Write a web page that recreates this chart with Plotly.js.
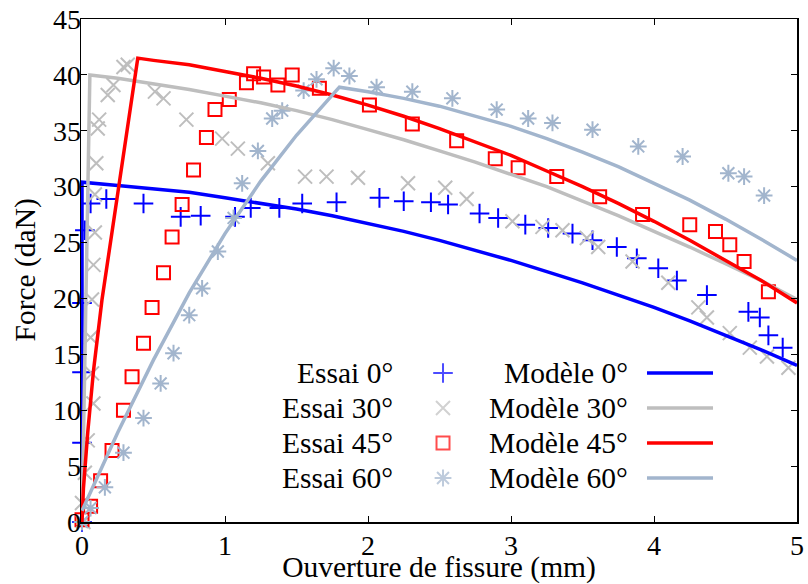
<!DOCTYPE html>
<html>
<head>
<meta charset="utf-8">
<script src="https://cdn.plot.ly/plotly-3.0.1.min.js"></script>
<style>html,body{margin:0;padding:0;background:#fff;}#chart{width:808px;height:584px;}</style>
</head>
<body>
<div id="chart"></div>
<script>
// ---- Experimental data (Essai) ----
const essai0_x = [0, 0, 0, 0, 0.02, 0.06, 0.17, 0.43, 0.69, 0.83, 1.07, 1.18, 1.38, 1.54, 1.78, 2.08, 2.25, 2.44, 2.56, 2.78, 2.91, 3.10, 3.26, 3.43, 3.57, 3.74, 3.88, 4.03, 4.16, 4.37, 4.66, 4.74, 4.80, 4.90];
const essai0_y = [0, 7.1, 13.4, 19.6, 26.1, 28.5, 28.9, 28.5, 27.3, 27.4, 27.3, 28.1, 28.1, 28.5, 28.6, 29.0, 28.7, 28.6, 28.4, 27.6, 27.2, 26.6, 26.3, 25.8, 25.2, 24.6, 23.6, 22.7, 21.6, 20.3, 18.8, 18.3, 16.7, 15.6];

const essai30_x = [0.01, 0.00, 0.02, 0.04, 0.08, 0.07, 0.06, 0.07, 0.08, 0.09, 0.09, 0.10, 0.11, 0.12, 0.18, 0.22, 0.29, 0.32, 0.51, 0.57, 0.73, 0.98, 1.09, 1.30, 1.56, 1.71, 1.93, 2.28, 2.54, 2.69, 3.01, 3.22, 3.36, 3.53, 3.61, 3.85, 4.10, 4.31, 4.37, 4.53, 4.67, 4.79, 4.94];
const essai30_y = [0.0, 1.7, 4.4, 7.3, 10.6, 13.3, 16.5, 19.9, 23.0, 25.9, 29.3, 32.1, 35.2, 36.0, 38.2, 39.1, 40.7, 40.9, 38.5, 37.9, 36.0, 34.3, 33.4, 32.1, 30.9, 30.9, 30.8, 30.3, 29.9, 28.9, 26.9, 26.4, 26.1, 25.4, 24.6, 23.3, 21.4, 19.2, 18.3, 16.9, 15.6, 14.8, 13.8];

const essai45_x = [0.0, 0.06, 0.13, 0.21, 0.29, 0.35, 0.43, 0.49, 0.57, 0.63, 0.70, 0.78, 0.87, 0.93, 1.03, 1.15, 1.20, 1.27, 1.37, 1.47, 1.66, 2.01, 2.31, 2.62, 2.89, 3.05, 3.32, 3.62, 3.92, 4.25, 4.43, 4.53, 4.63, 4.80];
const essai45_y = [0.2, 1.4, 3.7, 6.4, 10.0, 13.0, 16.0, 19.2, 22.3, 25.5, 28.4, 31.5, 34.4, 36.9, 37.8, 39.3, 40.1, 39.8, 39.1, 40.0, 38.8, 37.3, 35.6, 34.1, 32.5, 31.7, 30.9, 29.1, 27.5, 26.6, 26.0, 24.8, 23.3, 20.6];

const essai60_x = [0.0, 0.06, 0.16, 0.29, 0.43, 0.55, 0.64, 0.75, 0.84, 0.95, 1.06, 1.12, 1.23, 1.33, 1.40, 1.55, 1.64, 1.76, 1.87, 2.06, 2.31, 2.59, 2.90, 3.12, 3.29, 3.57, 3.89, 4.20, 4.52, 4.63, 4.77];
const essai60_y = [0.0, 1.25, 3.1, 6.2, 9.3, 12.4, 15.1, 18.5, 20.9, 24.2, 27.2, 30.3, 33.2, 36.1, 36.8, 38.6, 39.6, 40.6, 39.9, 38.9, 38.5, 37.9, 36.9, 36.1, 35.7, 35.1, 33.6, 32.7, 31.2, 30.9, 29.2];

// ---- Model curves (Modèle) ----
const modele0_x = [0, 0, 0.25, 0.5, 0.75, 1, 1.25, 1.5, 1.75, 2, 2.25, 2.5, 2.75, 3, 3.25, 3.5, 3.75, 4, 4.25, 4.5, 4.75, 5];
const modele0_y = [0, 30.4, 30.1, 29.8, 29.5, 29.0, 28.5, 28.0, 27.4, 26.7, 26.0, 25.2, 24.3, 23.4, 22.4, 21.4, 20.3, 19.2, 18.0, 16.7, 15.4, 14.0];

const modele30_x = [0, 0.055, 0.25, 0.5, 0.75, 1, 1.25, 1.5, 1.75, 2, 2.25, 2.5, 2.75, 3, 3.25, 3.5, 3.75, 4, 4.25, 4.5, 4.75, 5];
const modele30_y = [0, 40.0, 39.7, 39.2, 38.7, 38.1, 37.5, 36.8, 36.0, 35.1, 34.2, 33.2, 32.2, 31.1, 30.0, 28.7, 27.4, 26.0, 24.6, 23.1, 21.6, 19.9];

const modele45_x = [0, 0.01, 0.04, 0.08, 0.14, 0.39, 0.5, 0.75, 1, 1.25, 1.5, 1.75, 2, 2.25, 2.5, 2.75, 3, 3.25, 3.5, 3.75, 4, 4.25, 4.5, 4.75, 5];
const modele45_y = [0, 3, 8, 13.5, 19.9, 41.5, 41.3, 40.9, 40.3, 39.7, 39.0, 38.2, 37.3, 36.3, 35.2, 34.0, 32.8, 31.4, 30.0, 28.5, 26.9, 25.2, 23.4, 21.6, 19.6];

const modele60_x = [0, 0.25, 0.5, 0.75, 1.0, 1.25, 1.5, 1.8, 2, 2.25, 2.5, 2.75, 3, 3.25, 3.5, 3.75, 4, 4.25, 4.5, 4.75, 5];
const modele60_y = [1.0, 8.0, 14.5, 20.5, 25.8, 30.5, 34.6, 38.9, 38.5, 37.9, 37.2, 36.3, 35.4, 34.3, 33.1, 31.8, 30.3, 28.8, 27.1, 25.3, 23.4];

// ---- Labels & ticks ----
const essaiLabels = ['Essai 0°', 'Essai 30°', 'Essai 45°', 'Essai 60°'];
const modeleLabels = ['Modèle 0°', 'Modèle 30°', 'Modèle 45°', 'Modèle 60°'];
const xTitle = 'Ouverture de fissure (mm)';
const yTitle = 'Force (daN)';
const xTicks = [0, 1, 2, 3, 4, 5];
const yTicks = [0, 5, 10, 15, 20, 25, 30, 35, 40, 45];

// ---- Styles ----
const colors = ['#0000ff', '#bebebe', '#ff0000', '#a2b5cd'];
const symbols = ['cross-thin-open', 'x-thin-open', 'square-open', 'asterisk-open'];
const msizes = [14, 14, 13, 14];
const FONT = 'Liberation Serif';

const essaiX = [essai0_x, essai30_x, essai45_x, essai60_x];
const essaiY = [essai0_y, essai30_y, essai45_y, essai60_y];
const modeleX = [modele0_x, modele30_x, modele45_x, modele60_x];
const modeleY = [modele0_y, modele30_y, modele45_y, modele60_y];

const traces = [];
for (let i = 0; i < 4; i++) {
  traces.push({
    type: 'scatter', mode: 'markers', x: essaiX[i], y: essaiY[i], name: essaiLabels[i],
    cliponaxis: false, showlegend: false,
    marker: { symbol: symbols[i], size: msizes[i], color: colors[i], line: { color: colors[i], width: 2 } }
  });
}
for (let i = 0; i < 4; i++) {
  traces.push({
    type: 'scatter', mode: 'lines', x: modeleX[i], y: modeleY[i], name: modeleLabels[i],
    showlegend: false, line: { color: colors[i], width: 3.5 }
  });
}

// ---- Manual legend (text left of key, two columns) ----
const legRows = [0.2962, 0.2266, 0.1571, 0.0875];
const legEssaiTextX = 0.4385, legKeyX = 0.5056, legModTextX = 0.7668, legLineX0 = 0.7905, legLineX1 = 0.8827;
traces.push({
  type: 'scatter', mode: 'markers', xaxis: 'x2', yaxis: 'y2', showlegend: false, hoverinfo: 'skip',
  x: legRows.map(() => legKeyX), y: legRows,
  marker: { symbol: symbols, size: msizes, color: colors, line: { color: colors, width: 2 } }
});
const annotations = [];
const shapes = [];
for (let i = 0; i < 4; i++) {
  annotations.push({ xref: 'paper', yref: 'paper', x: legEssaiTextX, y: legRows[i], xanchor: 'right', yanchor: 'middle',
    text: essaiLabels[i], showarrow: false, font: { family: FONT, size: 29.5, color: '#000' } });
  annotations.push({ xref: 'paper', yref: 'paper', x: legModTextX, y: legRows[i], xanchor: 'right', yanchor: 'middle',
    text: modeleLabels[i], showarrow: false, font: { family: FONT, size: 29.5, color: '#000' } });
  shapes.push({ type: 'line', xref: 'paper', yref: 'paper', x0: legLineX0, x1: legLineX1, y0: legRows[i], y1: legRows[i],
    line: { color: colors[i], width: 3.5 } });
}
// y axis title as rotated annotation (placed precisely in the left margin)
annotations.push({ xref: 'paper', yref: 'paper', x: -0.0782, y: 0.5, xanchor: 'center', yanchor: 'middle',
  textangle: -90, text: yTitle, showarrow: false, font: { family: FONT, size: 29.5, color: '#000' } });

const axisCommon = {
  showgrid: false, zeroline: false, showline: true, linecolor: '#000', linewidth: 1.5,
  ticks: 'inside', ticklen: 6, tickwidth: 1, tickcolor: '#000', mirror: 'allticks',
  tickfont: { family: FONT, size: 28, color: '#000' }
};

const layout = {
  width: 808, height: 584,
  margin: { l: 81, r: 11, t: 19, b: 62, autoexpand: false },
  paper_bgcolor: '#fff', plot_bgcolor: '#fff',
  font: { family: FONT, color: '#000' },
  showlegend: false,
  xaxis: Object.assign({}, axisCommon, {
    range: [-0.007, 5], tickvals: xTicks, ticktext: xTicks.map(String), ticklabelstandoff: -2,
    title: { text: xTitle, font: { family: FONT, size: 29.5, color: '#000' } }
  }),
  yaxis: Object.assign({}, axisCommon, {
    range: [0, 45], tickvals: yTicks, ticktext: yTicks.map(String), ticklabelstandoff: -7
  }),
  xaxis2: { overlaying: 'x', range: [0, 1], visible: false, fixedrange: true },
  yaxis2: { overlaying: 'y', range: [0, 1], visible: false, fixedrange: true },
  annotations: annotations,
  shapes: shapes
};

Plotly.newPlot('chart', traces, layout, { displayModeBar: false, staticPlot: true });
</script>
</body>
</html>
